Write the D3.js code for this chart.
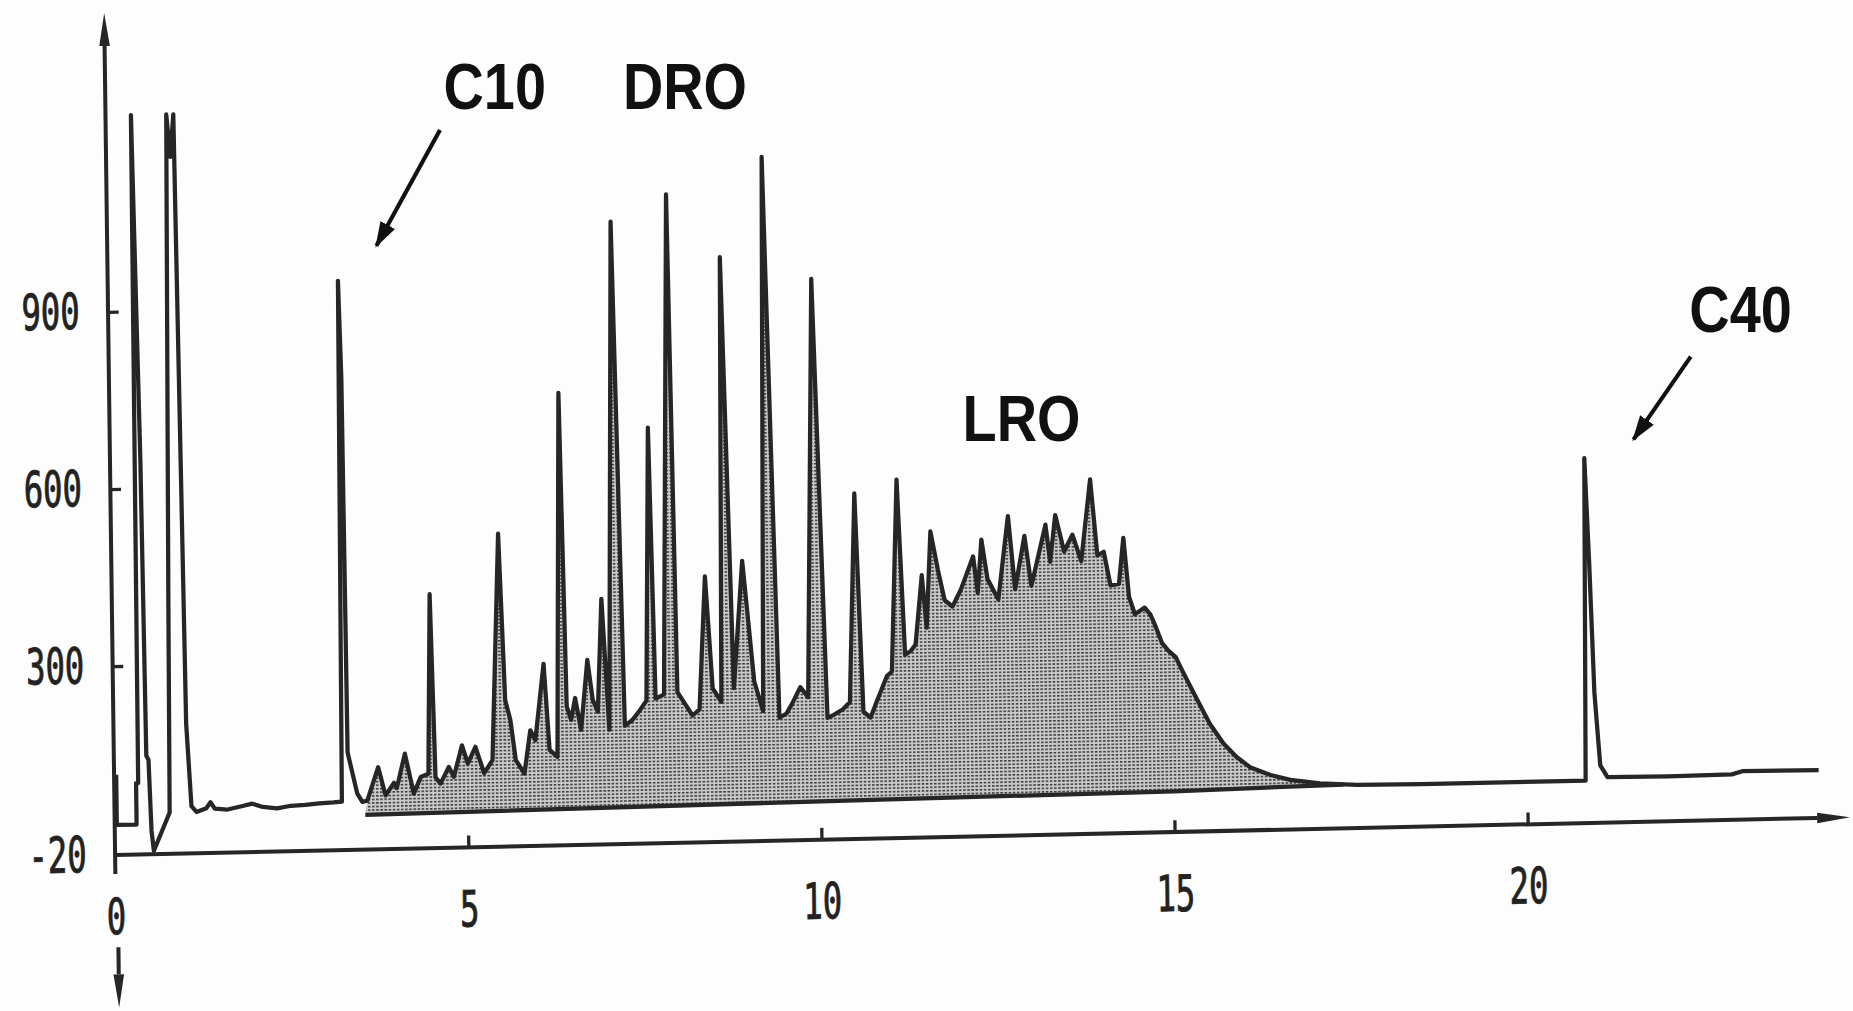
<!DOCTYPE html>
<html>
<head>
<meta charset="utf-8">
<script src="https://cdn.jsdelivr.net/npm/d3@7"></script>
<style>
  html, body { margin: 0; padding: 0; background: #fdfdfd; }
  svg { display: block; }
</style>
</head>
<body>
<div id="chart"></div>
<script>
const timeTicks = [0, 5, 10, 15, 20];
const signalTicks = [900, 600, 300, -20];

// detector trace, [minutes, signal]
const trace = [
  [0.03, 116], [0.03, 31], [0.31, 31], [0.31, 101], [0.34, 101], [0.36, 1232],
  [0.43, 650], [0.46, 147], [0.49, 140], [0.52, 20], [0.55, -14], [0.78, 50],
  [0.8, 400], [0.86, 1232], [0.91, 1160], [0.96, 1232], [1.0, 650], [1.03, 200],
  [1.09, 60], [1.16, 50], [1.3, 56], [1.36, 66], [1.42, 55], [1.6, 53], [1.8, 58],
  [1.95, 62], [2.1, 56], [2.3, 53], [2.5, 57], [2.7, 58], [2.9, 60], [3.1, 61],
  [3.22, 62], [3.26, 944], [3.29, 780], [3.31, 145], [3.44, 75], [3.51, 61],
  [3.58, 63], [3.74, 119], [3.84, 71], [3.96, 92], [4.0, 83], [4.12, 141],
  [4.24, 73], [4.34, 101], [4.45, 106], [4.5, 410], [4.55, 100], [4.62, 89],
  [4.74, 117], [4.81, 100], [4.93, 153], [5.01, 122], [5.12, 150], [5.24, 105],
  [5.36, 127], [5.48, 510], [5.55, 228], [5.62, 194], [5.69, 126], [5.81, 103],
  [5.9, 176], [5.97, 159], [6.1, 288], [6.17, 142], [6.28, 130], [6.36, 746],
  [6.42, 215], [6.48, 192], [6.54, 229], [6.62, 175], [6.72, 293], [6.79, 225],
  [6.86, 205], [6.93, 396], [7.02, 174], [7.13, 1034], [7.24, 180], [7.35, 190],
  [7.45, 205], [7.55, 222], [7.62, 684], [7.68, 225], [7.8, 232], [7.92, 1078],
  [7.99, 235], [8.08, 218], [8.2, 195], [8.3, 205], [8.4, 430], [8.49, 240],
  [8.61, 217], [8.67, 970], [8.79, 240], [8.93, 455], [9.08, 250], [9.2, 200],
  [9.28, 1138], [9.43, 188], [9.53, 195], [9.61, 211], [9.73, 239], [9.84, 222],
  [9.96, 930], [10.11, 186], [10.2, 191], [10.33, 200], [10.43, 212], [10.53, 565],
  [10.62, 195], [10.72, 185], [10.82, 215], [10.96, 255], [11.03, 262], [11.13, 587],
  [11.22, 290], [11.3, 296], [11.37, 307], [11.47, 424], [11.53, 335], [11.6, 498],
  [11.7, 432], [11.79, 381], [11.9, 370], [12.02, 398], [12.2, 454], [12.26, 392],
  [12.32, 482], [12.4, 415], [12.55, 380], [12.7, 521], [12.79, 397], [12.93, 487],
  [13.02, 402], [13.23, 505], [13.29, 442], [13.37, 521], [13.49, 459], [13.61, 487],
  [13.73, 442], [13.87, 580], [13.96, 451], [14.05, 457], [14.14, 400], [14.26, 402],
  [14.33, 480], [14.4, 380], [14.48, 350], [14.62, 361], [14.7, 349], [14.76, 332],
  [14.86, 300], [14.95, 287], [15.05, 276], [15.14, 253], [15.33, 207], [15.52, 162],
  [15.71, 128], [15.89, 105], [16.08, 87], [16.37, 73], [16.65, 64], [17.07, 57],
  [17.59, 53], [18.5, 52], [19.5, 52], [20.5, 52], [20.83, 52], [20.87, 598],
  [20.92, 420], [20.97, 200], [21.04, 77], [21.14, 57], [22.0, 56], [22.9, 57],
  [23.05, 62], [24.13, 61]
];

// lower edge of the shaded hump
const humpBase = [[3.55, 39], [10, 45], [15, 49], [17.4, 54]];

const notes = [
  { text: "C10", t: 4.65, v: 1244 },
  { text: "DRO", t: 7.19, v: 1244 },
  { text: "LRO", t: 12.0, v: 682 },
  { text: "C40", t: 22.29, v: 866 }
];
const pointers = [
  { from: [4.6, 1208], to: [3.7, 1012] },
  { from: [22.31, 824], to: [21.5, 684] }
];

const width = 1568;
const height = 856;
const ink = "#262626";

const x = d3.scaleLinear().domain([0, 24.55]).range([97, 1565]);
const y = d3.scaleLinear().domain([-20, 1404]).range([724, 12]);

const svg = d3
  .create("svg")
  .attr("width", 1853)
  .attr("height", 1011)
  .attr("viewBox", [0, 0, width, height]);

svg.append("rect").attr("width", width).attr("height", height).attr("fill", "#fdfdfd");

const defs = svg.append("defs");
defs
  .append("marker")
  .attr("id", "axisHead")
  .attr("viewBox", "0 -5 28 10")
  .attr("refX", 0)
  .attr("refY", 0)
  .attr("markerWidth", 28)
  .attr("markerHeight", 10)
  .attr("markerUnits", "userSpaceOnUse")
  .attr("orient", "auto")
  .append("path")
  .attr("d", "M0,-4.5L28,0L0,4.5Z")
  .attr("fill", ink);
defs
  .append("marker")
  .attr("id", "noteHead")
  .attr("viewBox", "0 -8 22 16")
  .attr("refX", 20)
  .attr("refY", 0)
  .attr("markerWidth", 22)
  .attr("markerHeight", 16)
  .attr("markerUnits", "userSpaceOnUse")
  .attr("orient", "auto")
  .append("path")
  .attr("d", "M0,-7L22,0L0,7Z")
  .attr("fill", "#111");

const dots = defs
  .append("pattern")
  .attr("id", "dots")
  .attr("width", 3.5)
  .attr("height", 3)
  .attr("patternUnits", "userSpaceOnUse");
dots.append("rect").attr("width", 3.5).attr("height", 3).attr("fill", "#cacaca");
dots.append("rect").attr("width", 2.2).attr("height", 1.3).attr("fill", "#3a3a3a");

// the scanned plot is slightly skewed
const ox = x(0), oy = y(-20);
const plot = svg
  .append("g")
  .attr("transform", `translate(${ox},${oy}) matrix(1,-0.0218,0.013,1,0,0) translate(${-ox},${-oy})`);

const line = d3.line().x((d) => x(d[0])).y((d) => y(d[1]));

// shaded hump
const t0 = humpBase[0][0];
const t1 = humpBase[humpBase.length - 1][0];
const hump = [humpBase[0], ...trace.filter((d) => d[0] > t0 && d[0] < t1), ...humpBase.slice().reverse()];
plot.append("path").attr("d", line(hump) + "Z").attr("fill", "url(#dots)");

plot
  .append("path")
  .attr("d", line(humpBase))
  .attr("fill", "none")
  .attr("stroke", ink)
  .attr("stroke-width", 3.6);

plot
  .append("path")
  .attr("d", line(trace))
  .attr("fill", "none")
  .attr("stroke", ink)
  .attr("stroke-width", 3.6)
  .attr("stroke-linejoin", "round");

// x axis
const xAxis = plot
  .append("g")
  .attr("transform", `translate(0,${y(-20)})`)
  .call(d3.axisBottom(x).tickValues(timeTicks).tickSizeInner(-10).tickSizeOuter(0).tickPadding(37));
xAxis.select(".domain").remove();
xAxis.selectAll(".tick line").attr("stroke", ink).attr("stroke-width", 2.8).filter((d) => d === 0).remove();
xAxis
  .selectAll(".tick text")
  .attr("fill", "#222")
  .attr("stroke", "#222")
  .attr("stroke-width", 0.8)
  .attr("font-family", "'DejaVu Sans Mono', monospace")
  .attr("font-size", 42)
  .attr("transform", "scale(0.65,1)");
plot
  .append("line")
  .attr("x1", x(0))
  .attr("x2", x(24.1))
  .attr("y1", y(-20))
  .attr("y2", y(-20))
  .attr("stroke", ink)
  .attr("stroke-width", 3.4)
  .attr("marker-end", "url(#axisHead)");

// y axis
const yAxis = plot
  .append("g")
  .attr("transform", `translate(${x(0)},0)`)
  .call(
    d3
      .axisLeft(y)
      .tickValues(signalTicks)
      .tickSizeInner(-9)
      .tickSizeOuter(0)
      .tickPadding(37)
      .tickFormat((d) => `${d}`)
  );
yAxis.select(".domain").remove();
yAxis.selectAll(".tick line").attr("stroke", ink).attr("stroke-width", 2.8).filter((d) => d === -20).remove();
yAxis
  .selectAll(".tick text")
  .attr("fill", "#222")
  .attr("stroke", "#222")
  .attr("stroke-width", 0.8)
  .attr("font-family", "'DejaVu Sans Mono', monospace")
  .attr("font-size", 42)
  .attr("transform", "scale(0.65,1)");
plot
  .append("line")
  .attr("x1", x(0))
  .attr("x2", x(0))
  .attr("y1", y(-52))
  .attr("y2", y(1350))
  .attr("stroke", ink)
  .attr("stroke-width", 3.4)
  .attr("marker-end", "url(#axisHead)");
plot
  .append("line")
  .attr("x1", x(0.03))
  .attr("x2", x(0.03))
  .attr("y1", y(-176))
  .attr("y2", y(-222))
  .attr("stroke", ink)
  .attr("stroke-width", 3.4)
  .attr("marker-end", "url(#axisHead)");

// annotations
const noteLayer = svg.append("g");
noteLayer
  .selectAll("text")
  .data(notes)
  .join("text")
  .attr("transform", (d) => `translate(${x(d.t)},${y(d.v)}) scale(0.86,1)`)
  .attr("font-family", "'Liberation Sans', Arial, sans-serif")
  .attr("font-weight", "bold")
  .attr("font-size", 55)
  .attr("fill", "#111")
  .text((d) => d.text);
noteLayer
  .selectAll("line")
  .data(pointers)
  .join("line")
  .attr("x1", (d) => x(d.from[0]))
  .attr("y1", (d) => y(d.from[1]))
  .attr("x2", (d) => x(d.to[0]))
  .attr("y2", (d) => y(d.to[1]))
  .attr("stroke", "#111")
  .attr("stroke-width", 3.5)
  .attr("marker-end", "url(#noteHead)");

document.getElementById("chart").append(svg.node());
</script>
</body>
</html>
